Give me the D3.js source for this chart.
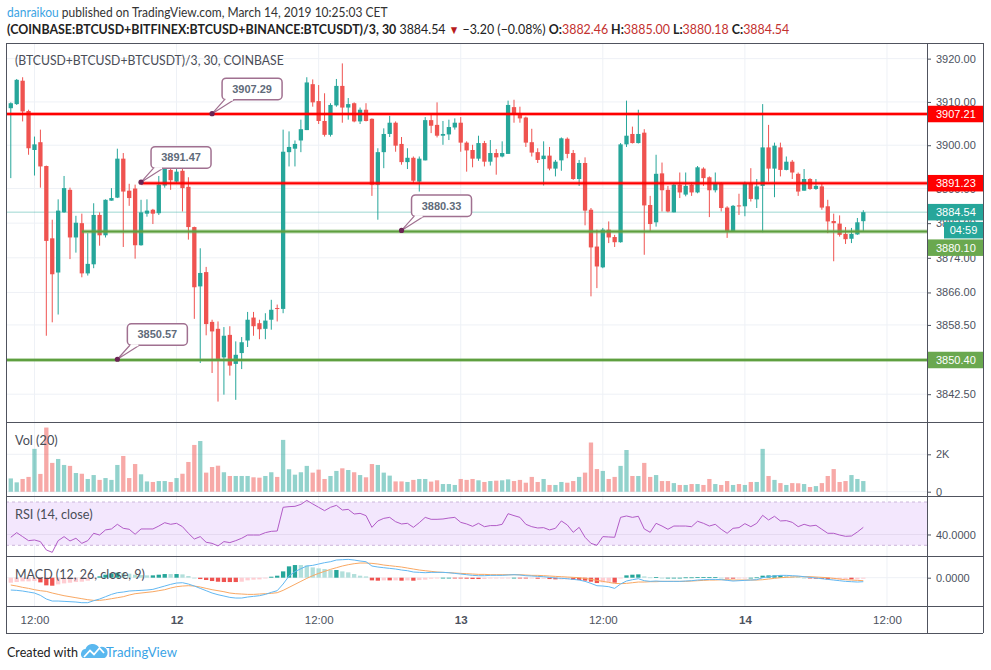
<!DOCTYPE html>
<html><head><meta charset="utf-8">
<script src="https://cdn.jsdelivr.net/npm/d3@7/dist/d3.min.js"></script>
<style>html,body{margin:0;padding:0;background:#fff;} svg{display:block}</style>
</head><body>
<svg id="chart" width="991" height="670"></svg>
<script>
// ---------------- DATA ----------------
const opens = [3908.55,3909.5,3914.9,3907.9,3898.9,3900.7,3895.2,3878.5,3870.6,3884.5,
 3889.7,3878.7,3882.0,3870.4,3872.5,3883.9,3879.2,3887.2,3887.9,3896.9,
 3889.5,3890.0,3876.9,3884.2,3885.1,3884.3,3890.7,3894.3,3891.6,3894.1,
 3890.4,3881.1,3867.4,3870.7,3859.2,3857.6,3851.0,3856.2,3849.5,3852.0,
 3854.9,3860.2,3858.9,3857.6,3859.7,3862.4,3862.2,3898.4,3899.2,3901.1,
 3903.5,3914.1,3910.2,3905.6,3902.4,3909.2,3913.7,3908.7,3909.7,3905.5,
 3908.2,3906.1,3890.9,3898.4,3902.6,3905.2,3900.3,3896.1,3897.1,3891.6,
 3896.5,3905.8,3904.7,3902.2,3902.5,3904.1,3905.2,3900.6,3898.9,3896.9,
 3900.5,3896.2,3898.2,3897.4,3898.0,3908.8,3907.4,3906.4,3900.7,3898.4,
 3896.8,3897.6,3894.6,3896.5,3901.5,3898.2,3892.2,3895.9,3885.1,3876.6,
 3871.8,3880.5,3878.8,3877.6,3900.2,3902.6,3900.5,3902.9,3886.2,3882.2,
 3893.5,3889.7,3884.5,3890.9,3888.6,3890.9,3889.1,3894.6,3892.6,3889.6,
 3891.2,3885.6,3880.2,3886.1,3885.9,3891.2,3887.5,3890.6,3899.5,3894.6,
 3899.5,3894.3,3896.2,3893.4,3889.5,3892.2,3889.9,3890.5,3885.9,3882.5,
 3881.9,3879.5,3878.4,3879.4,3882.46];
const highs = [3909.9,3915.3,3915.7,3908.2,3902.0,3903.6,3895.3,3882.8,3887.5,3892.9,
 3890.2,3883.7,3884.2,3879.7,3886.6,3884.5,3887.5,3890.1,3899.2,3898.2,
 3891.1,3890.9,3887.4,3887.5,3885.3,3892.9,3895.1,3894.7,3895.1,3894.9,
 3892.6,3881.2,3876.2,3871.9,3859.7,3859.3,3858.0,3858.2,3854.7,3855.7,
 3861.5,3861.5,3859.7,3861.2,3864.3,3863.2,3903.6,3903.2,3901.1,3905.9,
 3915.7,3915.2,3913.9,3912.0,3909.7,3915.3,3918.9,3910.9,3909.9,3908.7,
 3909.7,3906.2,3899.3,3903.9,3906.8,3905.5,3901.9,3899.3,3897.4,3897.4,
 3906.5,3907.0,3909.9,3905.6,3905.9,3906.2,3906.5,3900.9,3900.1,3902.2,
 3901.0,3901.2,3899.1,3900.9,3910.3,3910.5,3908.9,3906.6,3903.8,3899.3,
 3900.9,3899.6,3896.6,3901.8,3901.8,3898.9,3896.6,3897.2,3885.5,3880.5,
 3880.9,3882.4,3879.3,3900.5,3910.3,3904.3,3908.2,3903.7,3888.3,3897.8,
 3896.0,3890.6,3891.1,3893.7,3893.7,3891.4,3895.2,3894.9,3892.8,3893.7,
 3891.4,3885.9,3886.2,3888.8,3891.6,3894.7,3892.2,3909.5,3904.7,3900.6,
 3900.6,3897.4,3896.6,3893.7,3894.5,3892.4,3892.2,3891.2,3887.4,3884.2,
 3883.8,3881.1,3880.9,3883.2,3885.00];
const lows = [3892.4,3909.3,3905.5,3897.8,3893.0,3890.2,3856.0,3859.1,3860.9,3884.4,
 3873.7,3875.2,3869.5,3869.9,3871.6,3876.8,3878.7,3887.2,3887.8,3876.5,
 3886.0,3873.8,3876.8,3883.5,3881.8,3883.9,3890.2,3889.7,3891.2,3884.7,
 3878.2,3859.9,3849.7,3856.1,3847.4,3840.8,3842.4,3846.8,3841.2,3848.3,
 3853.4,3856.0,3855.2,3855.2,3857.4,3859.3,3861.2,3895.1,3895.1,3898.4,
 3903.5,3908.9,3904.9,3902.0,3902.0,3908.9,3905.2,3905.9,3905.3,3904.9,
 3905.5,3888.3,3882.8,3894.7,3901.9,3898.5,3895.5,3894.5,3891.1,3889.3,
 3896.5,3902.8,3901.8,3900.1,3901.2,3903.6,3898.5,3893.9,3894.9,3896.4,
 3895.1,3895.3,3893.2,3897.2,3898.0,3905.2,3905.2,3899.6,3897.4,3895.9,
 3890.7,3894.2,3892.8,3894.1,3897.0,3892.0,3890.6,3881.5,3865.1,3867.0,
 3871.6,3877.4,3876.5,3877.5,3899.6,3900.4,3900.4,3874.7,3880.1,3881.2,
 3884.7,3884.5,3884.5,3887.8,3888.2,3888.3,3888.9,3890.6,3883.4,3889.1,
 3884.7,3878.6,3880.2,3883.9,3883.6,3887.0,3885.5,3879.9,3891.6,3888.0,
 3892.8,3894.2,3892.2,3888.3,3889.5,3889.7,3889.7,3885.1,3879.7,3873.2,
 3878.9,3877.2,3877.4,3879.3,3880.18];
const closes = [3909.7,3915.1,3907.8,3899.3,3900.2,3895.1,3877.9,3870.2,3884.9,3890.1,
 3878.7,3882.1,3870.4,3872.6,3883.9,3879.2,3887.4,3887.8,3896.9,3889.3,
 3887.8,3876.9,3884.5,3884.9,3884.2,3890.9,3894.6,3891.9,3893.9,3890.1,
 3881.1,3867.2,3870.5,3858.7,3857.0,3850.5,3856.0,3849.1,3851.6,3854.5,
 3859.7,3858.2,3857.5,3859.5,3862.0,3862.2,3898.5,3899.6,3900.3,3903.7,
 3914.5,3909.9,3905.6,3902.4,3909.3,3913.7,3908.7,3909.5,3905.5,3908.2,
 3905.6,3890.9,3898.4,3902.6,3905.2,3899.9,3896.1,3897.1,3891.8,3896.9,
 3905.8,3904.5,3902.2,3902.6,3904.2,3905.2,3900.6,3898.8,3896.9,3900.5,
 3896.2,3898.2,3897.2,3898.2,3909.3,3907.2,3906.2,3900.6,3898.3,3896.6,
 3897.6,3894.6,3896.2,3901.6,3898.0,3892.2,3895.9,3884.9,3876.4,3872.0,
 3880.5,3878.7,3877.6,3900.2,3902.2,3900.5,3902.6,3886.1,3881.8,3893.4,
 3889.6,3884.7,3890.9,3889.1,3890.6,3889.1,3894.9,3892.4,3889.6,3891.1,
 3885.5,3880.2,3886.0,3885.9,3891.2,3887.6,3890.5,3899.5,3894.6,3899.9,
 3894.3,3896.2,3893.7,3889.3,3892.2,3889.9,3890.6,3885.6,3882.4,3882.0,
 3879.3,3878.3,3879.5,3882.2,3884.54];
const volumes = [710,500,680,790,2290,950,3430,1540,1750,1430,
 1380,1000,960,680,890,630,730,630,1430,1910,
 730,1480,930,550,520,570,570,520,730,960,
 1590,2500,2710,1020,1320,1390,1040,840,840,840,
 840,770,750,840,1040,790,2770,1200,910,1040,
 1380,1020,1180,680,840,1110,1250,1160,1040,890,
 770,1480,1430,1020,860,550,550,520,630,680,
 680,540,610,410,410,360,680,630,680,610,
 520,570,590,610,660,570,630,480,790,520,
 680,360,360,520,480,570,790,1020,2630,1210,
 1110,680,790,1380,2230,840,840,1540,790,890,
 570,570,460,360,360,410,410,360,680,410,
 360,570,360,410,360,520,520,2290,840,630,
 460,360,460,450,410,250,300,460,840,1210,
 520,570,890,680,570];
const rsiValues = [37.4,41.7,38.0,34.3,34.9,33.4,25.7,23.5,34.3,38.0,
 34.0,36.5,31.8,34.3,41.1,39.5,44.2,45.1,49.4,45.7,
 44.8,40.2,45.1,45.1,45.1,47.8,50.9,49.4,50.3,47.2,
 41.1,35.8,38.0,32.8,31.8,29.4,33.4,32.5,34.3,36.5,
 39.5,39.5,39.5,41.7,42.9,43.2,65.1,65.7,66.0,67.8,
 71.5,68.2,65.1,62.0,65.1,66.9,62.6,63.2,58.9,59.5,
 57.4,46.6,52.5,54.9,55.8,51.8,49.7,50.3,46.6,50.9,
 55.8,54.0,54.0,54.3,55.2,55.8,51.2,49.7,47.5,50.3,
 47.2,48.2,48.2,49.4,59.2,57.4,55.8,49.4,47.2,46.0,
 46.3,44.2,45.7,52.5,48.8,42.0,46.6,37.4,31.8,30.0,
 38.0,37.7,37.4,55.8,57.1,55.8,56.8,45.1,42.0,50.3,
 47.8,44.8,47.8,47.8,47.8,47.2,52.2,50.3,47.8,49.4,
 44.8,41.1,45.7,46.3,50.0,47.2,50.3,57.7,53.4,56.8,
 52.5,52.8,51.2,47.2,49.4,47.8,48.5,44.8,41.1,41.1,
 39.5,38.3,38.6,42.3,46.6];
const macdValues = [-4.11,-4.22,-4.44,-4.78,-5.11,-5.89,-7.11,-7.78,-7.78,-7.89,
 -8.0,-8.11,-8.33,-8.33,-7.67,-7.11,-6.33,-5.56,-5.0,-4.78,
 -4.44,-4.33,-4.22,-4.11,-3.89,-3.33,-2.78,-2.22,-1.78,-1.67,
 -2.11,-2.78,-3.56,-4.33,-5.11,-5.67,-6.11,-6.56,-6.78,-6.78,
 -6.44,-6.22,-6.0,-5.56,-4.89,-4.33,-2.11,0.56,2.0,3.0,
 3.89,4.11,4.56,5.0,5.33,5.89,6.0,6.11,5.89,5.56,
 5.33,3.89,3.56,3.33,3.11,2.89,2.56,2.33,1.89,1.78,
 1.67,1.78,1.78,1.78,1.67,1.44,1.22,1.0,0.78,0.67,
 0.67,0.78,0.78,0.78,0.89,1.0,0.89,0.67,0.56,0.44,
 0.33,0.11,-0.11,-0.22,-0.33,-0.56,-0.78,-1.22,-1.89,-2.67,
 -2.78,-3.0,-3.56,-2.11,-1.11,-0.67,-0.33,-1.0,-1.22,-1.11,
 -1.22,-1.22,-1.22,-1.22,-1.11,-1.0,-0.78,-0.67,-0.56,-0.56,
 -0.67,-0.89,-1.11,-1.0,-0.89,-0.78,-0.67,0,0.33,0.56,
 0.78,0.78,0.67,0.56,0.33,0.11,-0.11,-0.33,-0.56,-0.78,
 -1.0,-1.22,-1.33,-1.44,-1.33];
const signalValues = [-2.44,-2.78,-3.22,-3.56,-4.0,-4.33,-4.56,-5.11,-5.56,-6.0,
 -6.33,-6.67,-7.0,-7.33,-7.56,-7.56,-7.33,-7.0,-6.67,-6.33,
 -5.78,-5.33,-5.11,-4.89,-4.67,-4.33,-4.0,-3.44,-3.0,-2.78,
 -2.67,-2.78,-3.11,-3.56,-4.0,-4.33,-4.67,-5.11,-5.33,-5.44,
 -5.56,-5.56,-5.44,-5.33,-5.22,-5.0,-4.22,-3.22,-2.22,-1.22,
 -0.22,0.67,1.44,2.11,2.78,3.33,3.89,4.33,4.67,4.89,
 4.89,4.78,4.56,4.22,4.0,3.78,3.56,3.22,2.89,2.56,
 2.33,2.11,1.89,1.78,1.67,1.56,1.44,1.33,1.22,1.11,
 1.11,1.0,1.0,1.0,1.0,1.0,1.0,0.89,0.78,0.78,
 0.67,0.56,0.44,0.33,0.22,0.11,0,-0.22,-0.56,-0.89,
 -1.22,-1.56,-1.89,-2.0,-1.89,-1.67,-1.44,-1.44,-1.33,-1.33,
 -1.22,-1.22,-1.22,-1.22,-1.22,-1.11,-1.0,-0.89,-0.78,-0.78,
 -0.67,-0.67,-0.78,-0.78,-0.78,-0.78,-0.78,-0.67,-0.44,-0.22,
 0,0.11,0.22,0.33,0.33,0.33,0.22,0.11,0,-0.22,
 -0.44,-0.67,-0.78,-0.89,-1.0];
const priceTicks = [3842.5,3850.5,3858.5,3866,3874,3882,3890,3900,3910,3920];
const volTicks = [0,2000];
const rsiTicks = [40];
const macdTicks = [0];
// horizontal level lines: price, kind, starting candle (null = from left edge)
const levelPrices = [3907.21, 3891.23, 3880.10, 3850.40];
const levelKinds = ['res','res','sup','sup'];
const levelStarts = [null, 22, 12, null];
// price callouts: candle index and price
const calloutIdx = [34, 22, 18, 66];
const calloutPrice = [3907.29, 3891.47, 3850.57, 3880.33];
const countdownText = '04:59';
const headerUser = 'danraikou';
const headerRest = ' published on TradingView.com, March 14, 2019 10:25:03 CET';
const symbolText = '(COINBASE:BTCUSD+BITFINEX:BTCUSD+BINANCE:BTCUSDT)/3, 30';
const changeText = ' \u22123.20 (\u22120.08%) ';
const paneTitle = '(BTCUSD+BTCUSD+BTCUSDT)/3, 30, COINBASE';
const volTitle = 'Vol (20)', rsiTitle = 'RSI (14, close)', macdTitle = 'MACD (12, 26, close, 9)';

// ---------------- LAYOUT ----------------
const L=6, R=927, AR=983, TOP=43, PB=422, VB=496, RB=556, MB=606, XB=633;
const GREEN='#26a69a', RED='#ef5350';
const NUMFONT = '"Liberation Sans", Arial, sans-serif';
const TXTFONT = 'Lato, "Open Sans", "Liberation Sans", sans-serif';

const svg = d3.select('#chart');
svg.append('rect').attr('width',991).attr('height',670).attr('fill','#fff');

const START = Date.UTC(2019,2,11,10,0);
const HALF = 30*60*1000;
const tAt = i => new Date(START + i*HALF);
const candles = opens.map((o,i)=>({i,t:tAt(i),o,h:highs[i],l:lows[i],c:closes[i],v:volumes[i]}));

const x = d3.scaleUtc().domain([tAt(-0.81), tAt(154.76)]).range([L, R]);
const yP = d3.scaleLinear().domain([3836.08, 3923.61]).range([PB, TOP]);
const yV = d3.scaleLinear().domain([0,2000]).range([491.7,454.3]);
const yR = d3.scaleLinear().domain([30,70]).range([545.3,502]);
const yM = d3.scaleLinear().domain([0,5]).range([577.7,562.7]);

const defs = svg.append('defs');
function clip(id, y0, y1){ defs.append('clipPath').attr('id',id).append('rect').attr('x',L).attr('y',y0).attr('width',R-L).attr('height',y1-y0); }
clip('cp',TOP,PB); clip('cv',PB,VB); clip('cr',VB,RB); clip('cm',RB,MB);

const GRID = '#eef1f6';
// vertical grid
const xTicks = d3.utcHour.every(12).range(tAt(-0.81), tAt(154.76));
svg.append('g').selectAll('line').data(xTicks).join('line')
  .attr('x1',d=>x(d)).attr('x2',d=>x(d)).attr('y1',TOP).attr('y2',MB)
  .attr('stroke',GRID).attr('stroke-width',1);
// horizontal grids
function hgrid(vals, sc){ svg.append('g').selectAll('line').data(vals).join('line')
  .attr('x1',L).attr('x2',R).attr('y1',d=>sc(d)).attr('y2',d=>sc(d)).attr('stroke',GRID).attr('stroke-width',1); }
hgrid(priceTicks,yP); hgrid(volTicks,yV); hgrid(rsiTicks,yR); hgrid(macdTicks,yM);

// ---------------- PRICE PANE ----------------
const gp = svg.append('g').attr('clip-path','url(#cp)');
const lastClose = closes[closes.length-1];
gp.append('line').attr('x1',L).attr('x2',R).attr('y1',yP(lastClose)).attr('y2',yP(lastClose))
  .attr('stroke','rgba(38,166,154,0.45)').attr('stroke-width',1);

const CW = 4.3;
const col = d => d.c >= d.o ? GREEN : RED;
gp.selectAll('line.wick').data(candles).join('line').attr('class','wick')
  .attr('x1',d=>x(d.t)).attr('x2',d=>x(d.t)).attr('y1',d=>yP(d.h)).attr('y2',d=>yP(d.l))
  .attr('stroke',col).attr('stroke-width',1);
gp.selectAll('rect.body').data(candles).join('rect').attr('class','body')
  .attr('x',d=>x(d.t)-CW/2).attr('width',CW)
  .attr('y',d=>yP(Math.max(d.o,d.c)))
  .attr('height',d=>Math.max(1,Math.abs(yP(d.o)-yP(d.c))))
  .attr('fill',col);

// level lines
levelPrices.forEach((p,k)=>{
  const x0 = levelStarts[k]===null ? L : x(tAt(levelStarts[k]));
  const res = levelKinds[k]==='res';
  gp.append('line').attr('x1',x0).attr('x2',R).attr('y1',yP(p)).attr('y2',yP(p))
    .attr('stroke', res ? 'rgba(255,0,0,0.35)' : 'rgba(106,168,79,0.45)').attr('stroke-width',4);
  gp.append('line').attr('x1',x0).attr('x2',R).attr('y1',yP(p)).attr('y2',yP(p))
    .attr('stroke', res ? '#ff0000' : '#5e9f3f').attr('stroke-width',2);
});

// callouts
calloutIdx.forEach((ci,k)=>{
  const ax = x(tAt(ci)), ay = yP(calloutPrice[k]);
  const bw=60, bh=21.5, bx=ax+10, by=ay-14-bh;
  const g = gp.append('g');
  g.append('rect').attr('x',bx).attr('y',by).attr('width',bw).attr('height',bh).attr('rx',4)
    .attr('fill','#fff').attr('stroke','#a07090').attr('stroke-width',1.5);
  g.append('path').attr('d',`M${bx+2.5},${by+bh} L${ax},${ay} L${bx+12},${by+bh}`)
    .attr('fill','#fff').attr('stroke','#a07090').attr('stroke-width',1.2);
  g.append('line').attr('x1',bx+3.5).attr('x2',bx+11).attr('y1',by+bh).attr('y2',by+bh)
    .attr('stroke','#fff').attr('stroke-width',2);
  g.append('circle').attr('cx',ax).attr('cy',ay).attr('r',2.6).attr('fill','#6b2454');
  g.append('text').attr('x',bx+bw/2).attr('y',by+bh/2).attr('dy','0.36em').attr('text-anchor','middle')
    .style('font',`bold 11px ${NUMFONT}`).attr('fill','#5f6b7a').text(d3.format('.2f')(calloutPrice[k]));
});

// ---------------- VOLUME ----------------
const gv = svg.append('g').attr('clip-path','url(#cv)');
gv.selectAll('rect').data(candles).join('rect')
  .attr('x',d=>x(d.t)-CW/2).attr('width',CW)
  .attr('y',d=>yV(d.v)).attr('height',d=>yV(0)-yV(d.v))
  .attr('fill',d=>d.c>=d.o ? 'rgba(38,166,154,0.5)' : 'rgba(239,83,80,0.5)');

// ---------------- RSI ----------------
const gr = svg.append('g').attr('clip-path','url(#cr)');
gr.append('rect').attr('x',L).attr('width',R-L).attr('y',yR(70)).attr('height',yR(30)-yR(70)).attr('fill','#f3e7fd');
[70,30].forEach(v=>gr.append('line').attr('x1',L).attr('x2',R).attr('y1',yR(v)).attr('y2',yR(v))
  .attr('stroke','#cbb6da').attr('stroke-dasharray','3,3').attr('stroke-width',1));
hgridIn(gr, rsiTicks, yR);
function hgridIn(g, vals, sc){ g.selectAll('line.gg').data(vals).join('line').attr('class','gg')
  .attr('x1',L).attr('x2',R).attr('y1',d=>sc(d)).attr('y2',d=>sc(d)).attr('stroke','rgba(200,190,215,0.35)'); }
gr.append('path').datum(rsiValues)
  .attr('d', d3.line().x((v,i)=>x(tAt(i))).y(v=>yR(v)))
  .attr('fill','none').attr('stroke','#b25bc7').attr('stroke-width',1);

// ---------------- MACD ----------------
const gm = svg.append('g').attr('clip-path','url(#cm)');
const hist = macdValues.map((m,i)=>m-signalValues[i]);
gm.selectAll('rect').data(hist).join('rect')
  .attr('x',(h,i)=>x(tAt(i))-CW/2).attr('width',CW)
  .attr('y',h=>Math.min(yM(h),yM(0))).attr('height',h=>Math.max(0.8,Math.abs(yM(h)-yM(0))))
  .attr('fill',(h,i)=>{ const p = i>0 ? hist[i-1] : h;
    return h>=0 ? (h>=p ? '#26a69a' : '#b2dfdb') : (h<p ? '#ef5350' : '#ffcdd2'); });
gm.append('path').datum(signalValues).attr('d', d3.line().x((v,i)=>x(tAt(i))).y(v=>yM(v)))
  .attr('fill','none').attr('stroke','#f9a863').attr('stroke-width',1);
gm.append('path').datum(macdValues).attr('d', d3.line().x((v,i)=>x(tAt(i))).y(v=>yM(v)))
  .attr('fill','none').attr('stroke','#62b8f2').attr('stroke-width',1);

// ---------------- AXES ----------------
const AXC = '#4c525e';
function rightAxis(sc, vals, fmt){
  const g = svg.append('g').attr('transform',`translate(${R},0)`)
    .call(d3.axisRight(sc).tickValues(vals).tickFormat(fmt).tickSize(4).tickPadding(5));
  g.select('.domain').remove();
  g.selectAll('line').attr('stroke',AXC);
  g.selectAll('text').attr('fill',AXC).style('font',`11px ${NUMFONT}`);
}
rightAxis(yP, priceTicks, d3.format('.2f'));
rightAxis(yV, volTicks, d=> d===0 ? '0' : (d/1000)+'K');
rightAxis(yR, rsiTicks, d3.format('.4f'));
rightAxis(yM, macdTicks, d3.format('.4f'));

const gx = svg.append('g').attr('transform','translate(0,620)')
  .call(d3.axisBottom(x).tickValues(xTicks).tickSize(0).tickPadding(0)
    .tickFormat(d=> d.getUTCHours()===0 ? d3.utcFormat('%-d')(d) : d3.utcFormat('%H:%M')(d)));
gx.select('.domain').remove();
gx.selectAll('text').attr('y',0).attr('dy','0.35em').attr('fill',AXC)
  .style('font',d=>`${d.getUTCHours()===0?'bold ':''}11.5px ${NUMFONT}`);

// price-axis labels
const boxH = 16.5;
const curTop = yP(lastClose)-boxH/2;
const cdTop = curTop+boxH+1.5;
const occupied = [[curTop,curTop+boxH],[cdTop,cdTop+boxH]];
const labelFill = k => levelKinds[k]==='res' ? '#ff0000' : '#6aa84f';
const labs = levelPrices.map((p,k)=>{ let t = yP(p)-boxH/2;
  occupied.forEach(([a,b])=>{ if (t<b && t+boxH>a) t=b+1; }); occupied.push([t,t+boxH]);
  return {p, top:t, fill:labelFill(k)}; });
labs.push({p:lastClose, top:curTop, fill:GREEN});
labs.forEach(l=>{
  svg.append('rect').attr('x',R+1).attr('y',l.top).attr('width',AR-R-1).attr('height',boxH).attr('fill',l.fill);
  svg.append('text').attr('x',R+9).attr('y',l.top+boxH/2).attr('dy','0.36em').attr('fill','#fff')
    .style('font',`11px ${NUMFONT}`).text(d3.format('.2f')(l.p));
});
svg.append('rect').attr('x',944).attr('y',cdTop).attr('width',AR-944).attr('height',boxH).attr('fill',GREEN);
svg.append('text').attr('x',(944+AR)/2).attr('y',cdTop+boxH/2).attr('dy','0.36em').attr('text-anchor','middle')
  .attr('fill','#fff').style('font',`11px ${NUMFONT}`).text(countdownText);

// ---------------- FRAME ----------------
const FR = '#50535e';
[[L,TOP,AR,TOP],[L,PB,AR,PB],[L,VB,AR,VB],[L,RB,AR,RB],[L,MB,AR,MB],[L,XB,AR,XB],
 [L,TOP,L,XB],[R,TOP,R,XB],[AR,TOP,AR,XB]].forEach(s=>
  svg.append('line').attr('x1',s[0]).attr('y1',s[1]).attr('x2',s[2]).attr('y2',s[3])
   .attr('stroke',FR).attr('stroke-width',1).attr('shape-rendering','crispEdges'));

// ---------------- TEXTS ----------------
function fitX(sel, x0, target){ const w = sel.node().getComputedTextLength(); if (w>0){ const k = target/w;
  sel.attr('transform',`translate(${x0},0) scale(${k},1) translate(${-x0},0)`);} }
function title(txt, x0, yc, w, size){
  const t = svg.append('text').attr('x',x0).attr('y',yc).attr('dy','0.35em').attr('fill','#4a4d57')
    .style('font',`${size}px ${TXTFONT}`).text(txt); fitX(t,x0,w); }
title(paneTitle, 15, 60.5, 269, 13.5);
title(volTitle, 15, 440, 42.7, 13.5);
title(rsiTitle, 15, 514, 77.7, 13.5);
title(macdTitle, 15, 574, 130, 13.5);

const h1 = svg.append('text').attr('x',7).attr('y',17).style('font',`14px ${TXTFONT}`);
h1.append('tspan').attr('fill','#3aa3e3').text(headerUser);
h1.append('tspan').attr('fill','#333').text(headerRest);
fitX(h1,7,381);

const RV = '#c3312f';
const h2 = svg.append('text').attr('x',7).attr('y',34).style('font',`14px ${TXTFONT}`).attr('fill','#222');
h2.append('tspan').style('font-weight','bold').text(symbolText);
h2.append('tspan').text(' '+d3.format('.2f')(lastClose)+' ');
h2.append('tspan').attr('fill','#b71c1c').style('font-size','12px').text('\u25BC');
h2.append('tspan').text(changeText);
[['O:',opens],['H:',highs],['L:',lows],['C:',closes]].forEach(([lab,arr],k)=>{
  h2.append('tspan').style('font-weight','bold').text((k?' ':'')+lab);
  h2.append('tspan').attr('fill',RV).text(d3.format('.2f')(arr[arr.length-1]));
});
fitX(h2,7,783);

// footer
const f1 = svg.append('text').attr('x',7).attr('y',657).attr('fill','#222').style('font',`14px ${TXTFONT}`).text('Created with');
fitX(f1,7,71);
const logo = svg.append('g');
logo.append('path').attr('d','M83,658 a5,5 0 0 1 2.5,-9 a7.5,7.5 0 0 1 13.5,-1.5 a5.2,5.2 0 0 1 5.5,10.5 z').attr('fill','#5ab8ef');
logo.append('path').attr('d','M84,657 L90,650.5 L94,654.5 L99.5,648 L104,653').attr('fill','none').attr('stroke','#fff').attr('stroke-width',1.8);
const f2 = svg.append('text').attr('x',106).attr('y',657).attr('fill','#3ba4e6').style('font',`14px ${TXTFONT}`).text('TradingView');
fitX(f2,106,71);
</script></body></html>
